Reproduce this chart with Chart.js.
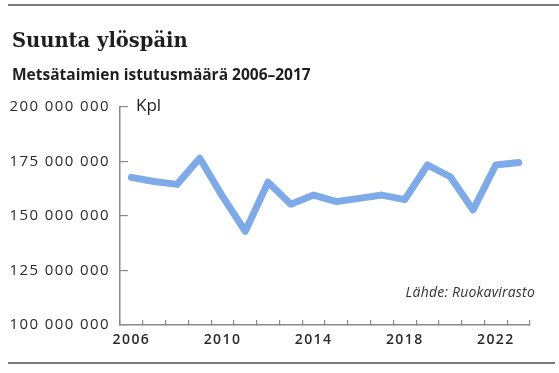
<!DOCTYPE html>
<html>
<head>
<meta charset="utf-8">
<script src="https://cdn.jsdelivr.net/npm/chart.js@4"></script>
<style>
  html, body { margin: 0; padding: 0; background: #ffffff; }
  #wrap { position: relative; width: 559px; height: 373px; }
</style>
</head>
<body>
<div id="wrap"><canvas id="c" width="559" height="373"></canvas></div>
<script>
const years = ['2006','2007','2008','2009','2010','2011','2012','2013','2014','2015','2016','2017','2018','2019','2020','2021','2022','2023'];
const plantings = [167700000, 165800000, 164500000, 176500000, 159000000, 143000000, 165500000, 155400000, 159600000, 156600000, 158100000, 159600000, 157500000, 173400000, 168000000, 152800000, 173400000, 174500000];
const yTicks = [100000000, 125000000, 150000000, 175000000, 200000000];
const xLabelYears = ['2006','2010','2014','2018','2022'];

const titleText = 'Suunta ylöspäin';
const subtitleText = 'Metsätaimien istutusmäärä 2006–2017';
const unitText = 'Kpl';
const sourceText = 'Lähde: Ruokavirasto';

function fmt(v) {
  return String(v).replace(/\B(?=(\d{3})+(?!\d))/g, ' ');
}

const decor = {
  id: 'decor',
  beforeDraw(chart) {
    const ctx = chart.ctx;
    ctx.save();
    ctx.fillStyle = '#ffffff';
    ctx.fillRect(0, 0, chart.width, chart.height);
    ctx.restore();
    ctx.letterSpacing = '1.4px';
  },
  afterDraw(chart) {
    const ctx = chart.ctx;
    ctx.letterSpacing = '0px';
    const y = chart.scales.y;
    const x = chart.scales.x;
    ctx.save();
    // rules
    ctx.strokeStyle = '#7a7a7a';
    ctx.lineWidth = 2;
    ctx.beginPath(); ctx.moveTo(8, 5); ctx.lineTo(559, 5); ctx.stroke();
    ctx.beginPath(); ctx.moveTo(8, 363); ctx.lineTo(555, 363); ctx.stroke();
    // title
    ctx.fillStyle = '#1e1e1e';
    ctx.textBaseline = 'alphabetic';
    ctx.textAlign = 'left';
    ctx.font = 'bold 19.5px "DejaVu Serif"';
    ctx.fillText(titleText, 12, 47);
    ctx.font = 'bold 15.5px "Open Sans"';
    ctx.fillText(subtitleText, 12, 80);
    // unit
    ctx.font = '17px "Open Sans"';
    ctx.textBaseline = 'middle';
    ctx.fillText(unitText, 136, y.getPixelForValue(yTicks[yTicks.length - 1]) - 1);
    // source
    ctx.font = 'italic 14px "Open Sans"';
    ctx.letterSpacing = '0.2px';
    ctx.textAlign = 'right';
    ctx.fillStyle = '#333333';
    ctx.fillText(sourceText, x.right + 5, 293);
    ctx.restore();
  }
};

new Chart(document.getElementById('c'), {
  type: 'line',
  data: {
    labels: years,
    datasets: [{
      data: plantings,
      borderColor: '#7eaaea',
      borderWidth: 7,
      pointRadius: 0,
      tension: 0,
      borderJoinStyle: 'round',
      borderCapStyle: 'round',
      fill: false
    }]
  },
  options: {
    responsive: false,
    animation: false,
    layout: { padding: { top: 107, left: 8, right: 29, bottom: 26 } },
    plugins: { legend: { display: false }, tooltip: { enabled: false }, title: { display: false } },
    scales: {
      x: {
        type: 'category',
        offset: true,
        grid: { offset: true, drawOnChartArea: false, tickLength: -5, color: '#8a8a8a', lineWidth: 1.2 },
        border: { color: '#8a8a8a', width: 1.5 },
        ticks: {
          autoSkip: false,
          maxRotation: 0,
          padding: 12,
          color: '#2a2a2a',
          font: { family: '"Open Sans"', size: 14, weight: '600' },
          callback(v, i) { const l = this.getLabelForValue(v); return xLabelYears.includes(l) ? l : ''; }
        },
        afterFit(s) { s.height = 22; }
      },
      y: {
        min: yTicks[0],
        max: yTicks[yTicks.length - 1],
        afterBuildTicks(s) { s.ticks = yTicks.map(v => ({ value: v })); },
        grid: { drawOnChartArea: false, tickLength: -8, color: '#8a8a8a', lineWidth: 1.2 },
        border: { color: '#8a8a8a', width: 1.5 },
        ticks: {
          padding: 18,
          color: '#2a2a2a',
          font: { family: '"Open Sans"', size: 15 },
          callback(v) { return fmt(v); }
        },
        afterFit(s) { s.width = 112; }
      }
    }
  },
  plugins: [decor]
});
</script>
</body>
</html>
